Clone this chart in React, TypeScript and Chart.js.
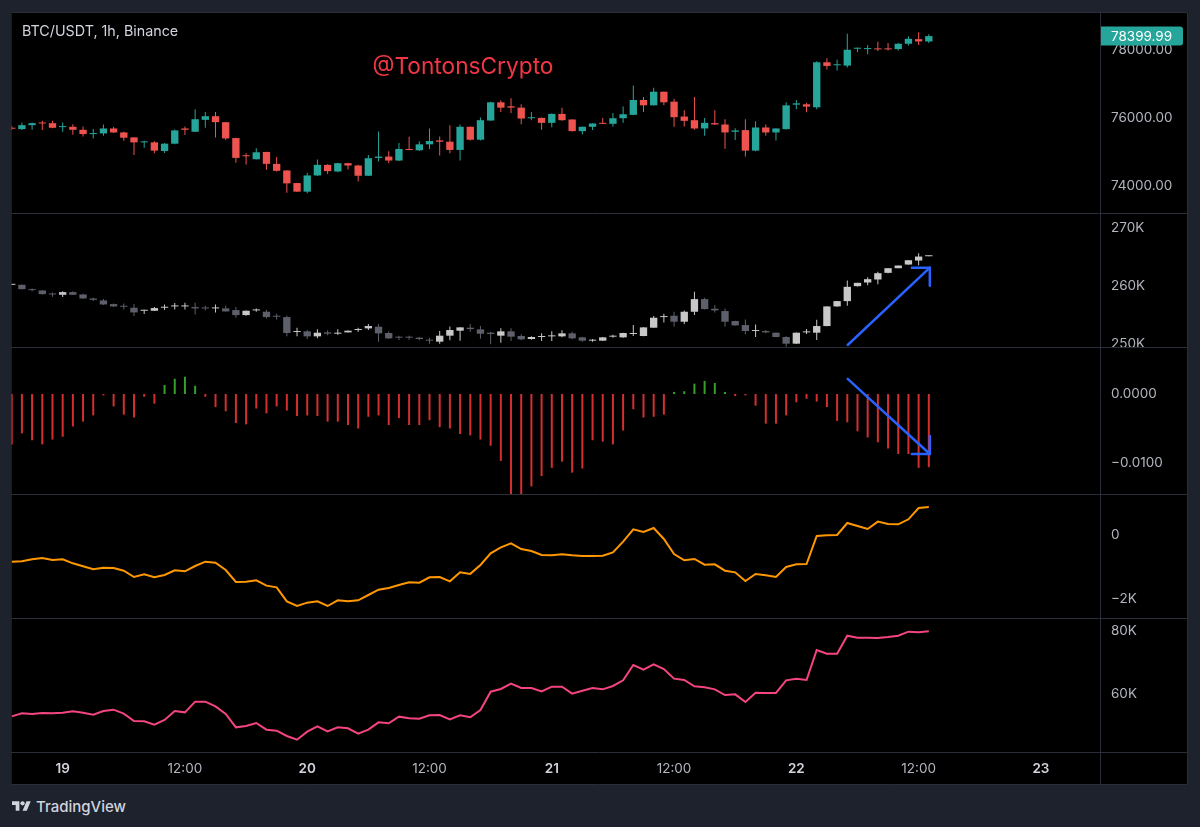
import React, { useEffect, useRef } from 'react';
import { Chart, registerables } from 'chart.js';

Chart.register(...registerables);

// x values: hours relative to the 19th, 00:00 (1h candles from 18th 19:00 to 22nd 13:00)
const HOURS = Array.from({ length: 91 }, (_, i) => i - 5);

const PRICE_OPEN = [75700, 75668, 75784, 75862, 75843, 75726, 75736, 75648, 75522, 75541,
  75687, 75570, 75425, 75279, 75279, 75026, 75240, 75687, 75590, 75940,
  76047, 75872, 75405, 74900, 74783, 74997, 74647, 74453, 74084, 73831,
  74307, 74618, 74424, 74667, 74599, 74298, 74822, 74861, 74745, 75085,
  75046, 75221, 75337, 75298, 75056, 75736, 75357, 75920, 76455, 76338,
  76299, 75988, 75998, 75852, 76115, 75950, 75609, 75736, 75852, 75823,
  75988, 76086, 76523, 76367, 76766, 76474, 76037, 75930, 75687, 75843,
  75804, 75590, 75639, 75036, 75716, 75570, 75668, 76387, 76397, 76309,
  77631, 77543, 77533, 78029, 78019, 78039, 78039, 78019, 78175, 78311, 78243];
const PRICE_HIGH = [75760, 75862, 75862, 75911, 75911, 75862, 75814, 75745, 75668, 75804,
  75736, 75590, 75425, 75327, 75308, 75259, 75658, 75745, 76251, 76173,
  76173, 75880, 75415, 74958, 75104, 75005, 74851, 74460, 74093, 74385,
  74774, 74637, 74677, 74677, 74618, 74910, 75600, 75017, 75259, 75444,
  75308, 75687, 75454, 75784, 75804, 75745, 76008, 76474, 76513, 76571,
  76397, 76173, 76010, 76124, 76299, 75960, 75745, 75843, 75998, 76144,
  76329, 76950, 76610, 76882, 76775, 76562, 76221, 76610, 75998, 76221,
  75959, 75697, 75959, 75901, 75804, 75697, 76455, 76523, 76445, 77660,
  77747, 77708, 78466, 78068, 78136, 78233, 78194, 78194, 78398, 78515, 78456];
const PRICE_LOW = [75640, 75639, 75648, 75639, 75697, 75590, 75502, 75454, 75395, 75473,
  75551, 75327, 74910, 75123, 74958, 74968, 75221, 75493, 75580, 75707,
  75425, 75347, 74677, 74628, 74774, 74472, 74424, 73802, 73821, 73783,
  74288, 74346, 74404, 74482, 74132, 74288, 74716, 74667, 74735, 75050,
  75026, 75085, 74890, 74958, 74745, 75337, 75337, 75911, 76173, 76144,
  75814, 75930, 75648, 75726, 75911, 75600, 75512, 75639, 75815, 75736,
  75852, 76076, 76173, 76360, 76367, 75736, 75745, 75648, 75473, 75794,
  75094, 75347, 74861, 75017, 75473, 75337, 75658, 76251, 76163, 76251,
  77417, 77388, 77475, 77932, 77864, 77961, 77980, 77980, 78126, 78136, 78194];
const PRICE_CLOSE = [75680, 75784, 75843, 75833, 75707, 75755, 75648, 75522, 75551, 75687,
  75570, 75415, 75279, 75298, 75036, 75240, 75629, 75648, 75959, 76047,
  75872, 75395, 74822, 74871, 74988, 74647, 74443, 74074, 73831, 74307,
  74618, 74433, 74667, 74599, 74298, 74813, 74861, 74745, 75085, 75056,
  75221, 75318, 75298, 75056, 75736, 75357, 75930, 76455, 76299, 76299,
  75979, 76018, 75852, 76115, 75930, 75609, 75736, 75833, 75823, 75988,
  76105, 76523, 76367, 76766, 76455, 76018, 75911, 75687, 75852, 75804,
  75570, 75629, 75036, 75716, 75570, 75687, 76367, 76425, 76329, 77631,
  77524, 77572, 77999, 78049, 78039, 78010, 78010, 78175, 78320, 78243, 78399.99];

const OI_OPEN = [260230, 260230, 259425, 259253, 258678, 258506, 258966, 258563, 257874, 257529,
  256896, 256609, 256265, 255747, 255747, 256265, 256494, 256494, 256380, 256265,
  256150, 256150, 255862, 255000, 255805, 255575, 254885, 254655, 252069, 252184,
  251322, 252012, 251782, 252012, 252414, 252701, 252989, 251897, 251265, 251207,
  251093, 250747, 250402, 251437, 252299, 252816, 252529, 251954, 251437, 252184,
  251380, 250862, 251207, 251322, 251322, 251839, 251150, 250575, 250575, 251265,
  251150, 251724, 251380, 252816, 254655, 254885, 253851, 255575, 257759, 256093,
  255690, 253966, 253276, 252241, 252241, 251954, 251207, 250057, 252012, 251954,
  253104, 256494, 257414, 259999, 260632, 261149, 262299, 263104, 263735, 264425, 265172];
const OI_HIGH = [260340, 260290, 259598, 259310, 258908, 259138, 259138, 258678, 257990, 257759,
  257011, 257011, 256896, 255920, 256380, 256839, 257080, 257126, 257126, 256609,
  256839, 256609, 256380, 255805, 256150, 255920, 255230, 254885, 252816, 252414,
  252529, 252356, 252529, 252330, 252816, 253449, 253449, 252184, 251437, 251437,
  251207, 251092, 252241, 253046, 252874, 253449, 253104, 252127, 252701, 252701,
  251667, 251322, 251839, 252184, 252356, 252127, 251265, 250862, 251200, 251610,
  251954, 253276, 252900, 254827, 255230, 255575, 255805, 259023, 257990, 256724,
  256150, 254000, 254252, 253391, 252414, 251980, 251322, 251970, 252586, 254195,
  256530, 257414, 260977, 260575, 261552, 262471, 263104, 263564, 264482, 265689, 265300];
const OI_LOW = [260230, 259420, 259138, 258563, 258161, 258104, 258500, 257816, 257414, 256724,
  256380, 255977, 254827, 255172, 255690, 255862, 255977, 255977, 255115, 255805,
  255460, 255575, 254540, 254885, 255575, 254425, 254252, 251322, 251322, 250862,
  250977, 251495, 251610, 251990, 252127, 252414, 250402, 250862, 250690, 250747,
  250632, 250057, 250057, 250632, 250575, 252127, 250919, 249943, 250230, 250517,
  250632, 250747, 250517, 250517, 251150, 250805, 250402, 250402, 250560, 251093,
  251100, 251380, 251350, 252800, 253736, 252989, 253449, 255000, 255977, 255460,
  252989, 253200, 251667, 251207, 251839, 251180, 249540, 250000, 251724, 250690,
  253080, 256450, 256609, 259950, 260172, 260345, 262250, 263080, 263700, 263620, 265150];
const OI_CLOSE = [260340, 259483, 259310, 258620, 258563, 258966, 258506, 257874, 257644, 256839,
  256494, 256437, 255460, 255862, 256207, 256380, 256609, 256552, 256150, 256150,
  256265, 255632, 255000, 255747, 255920, 254655, 254712, 251897, 252241, 251322,
  251954, 251782, 251954, 252299, 252586, 253104, 251839, 250977, 251093, 251093,
  250862, 250575, 251437, 252414, 252874, 252586, 251782, 251724, 252184, 251265,
  250805, 251207, 251380, 251495, 251839, 250977, 250575, 250690, 251150, 251437,
  251897, 251839, 252874, 254540, 254827, 253851, 255575, 257759, 256035, 255805,
  253851, 253219, 252241, 252414, 252012, 251207, 250057, 251954, 252127, 253104,
  256494, 257414, 259885, 260575, 261207, 262241, 263104, 263564, 264482, 265115, 265287];

const FUNDING = [-0.0073, -0.0057, -0.0067, -0.0073, -0.0066, -0.0062, -0.0047, -0.0040, -0.0031, -0.0002,
  -0.0018, -0.0030, -0.0034, -0.0004, -0.0014, 0.0013, 0.0022, 0.0025, 0.0012, -0.0004,
  -0.0019, -0.0025, -0.0042, -0.0044, -0.0021, -0.0028, -0.0018, -0.0024, -0.0032, -0.0031,
  -0.0032, -0.0040, -0.0040, -0.0045, -0.0050, -0.0033, -0.0031, -0.0045, -0.0035, -0.0045,
  -0.0045, -0.0038, -0.0048, -0.0050, -0.0058, -0.0060, -0.0066, -0.0075, -0.0097, -0.0145,
  -0.0145, -0.0134, -0.0119, -0.0107, -0.0098, -0.0114, -0.0108, -0.0067, -0.0069, -0.0073,
  -0.0053, -0.0022, -0.0034, -0.0033, -0.0030, 0.0003, 0.0004, 0.0015, 0.0019, 0.0016,
  0.0003, -0.0003, -0.0002, -0.0017, -0.0043, -0.0043, -0.0031, -0.0012, -0.0007, -0.0011,
  -0.0019, -0.0039, -0.0041, -0.0054, -0.0063, -0.0070, -0.0079, -0.0087, -0.0087, -0.0107, -0.0106];

const LINE_ORANGE = [-833, -823, -760, -719, -781, -760, -885, -979, -1073, -1021,
  -1031, -1115, -1313, -1229, -1323, -1250, -1104, -1135, -969, -833,
  -865, -1094, -1469, -1458, -1417, -1583, -1635, -2073, -2219, -2115,
  -2073, -2219, -2042, -2073, -2042, -1875, -1708, -1656, -1563, -1479,
  -1490, -1323, -1313, -1448, -1167, -1215, -938, -573, -385, -260,
  -438, -500, -625, -635, -604, -635, -656, -656, -646, -542,
  -208, 177, 94, 219, -125, -594, -792, -750, -927, -917,
  -1115, -1167, -1438, -1219, -1260, -1313, -1000, -917, -906, -31,
  -10, 0, 375, 281, 188, 417, 344, 333, 490, 844, 875];

const LINE_PINK = [52909, 53862, 53650, 53968, 53862, 54073, 54497, 54073, 53438, 54603,
  55026, 53756, 51428, 51322, 50263, 51745, 54603, 54179, 57566, 57566,
  56085, 53650, 49417, 49840, 50793, 48676, 48359, 46665, 45501, 48041,
  49734, 48147, 49417, 49099, 47406, 48676, 51004, 50687, 52804, 52274,
  52168, 53226, 53332, 51957, 53226, 52600, 54920, 60740, 61587, 63280,
  61904, 61904, 60846, 62328, 62328, 60105, 61058, 61904, 61481, 62540,
  64339, 69207, 67725, 69418, 67937, 64868, 64445, 62434, 62117, 61481,
  59682, 59894, 57460, 60423, 60317, 60317, 64339, 64868, 64445, 73970,
  72806, 72806, 78520, 77885, 77885, 77779, 78096, 78520, 79790, 79578, 79896];

const X_TICKS = [0, 12, 24, 36, 48, 60, 72, 84, 96];
const X_TICK_LABELS = ['19', '12:00', '20', '12:00', '21', '12:00', '22', '12:00', '23'];
const PRICE_TICKS = [74000, 76000, 78000];
const PRICE_TICK_LABELS = ['74000.00', '76000.00', '78000.00'];
const OI_TICKS = [250000, 260000, 270000];
const OI_TICK_LABELS = ['250K', '260K', '270K'];
const FUNDING_TICKS = [-0.01, 0];
const FUNDING_TICK_LABELS = ['\u22120.0100', '0.0000'];
const ORANGE_TICKS = [-2000, 0];
const ORANGE_TICK_LABELS = ['\u22122K', '0'];
const PINK_TICKS = [60000, 80000];
const PINK_TICK_LABELS = ['60K', '80K'];

// hand-drawn arrows (data coordinates: [hour, value])
const OI_ARROW = { axis: 'yO', from: [77.04, 249830], to: [85.1, 263200], head: 1 };
const FUNDING_ARROW = { axis: 'yF', from: [77.04, 0.0022], to: [85.1, -0.0087], head: -1 };

const TITLE = 'BTC/USDT, 1h, Binance';
const WATERMARK = '@TontonsCrypto';

const UP = '#26a69a';
const DOWN = '#ef5350';
const OI_UP = '#c8c8c8';
const OI_DOWN = '#5d606b';
const HIST_UP = '#33a02c';
const HIST_DOWN = '#d32f2f';
const SEP = '#2a2e39';
const AXIS_COLOR = '#b2b5be';
const FONT = 'Inter, "Noto Sans", sans-serif';

const X_MIN = -5.07;
const X_MAX = 101.8;

function yScale(min: number, max: number, weight: number, ticks: number[], labels: string[]) {
  return {
    type: 'linear',
    position: 'right',
    stack: 'panes',
    stackWeight: weight,
    min,
    max,
    bounds: 'data',
    beginAtZero: false,
    grid: { display: false, drawTicks: false },
    border: { display: false },
    afterBuildTicks: (s: any) => { s.ticks = ticks.map((v) => ({ value: v })); },
    afterFit: (s: any) => {
      s.width = 88;
      s.paddingTop = 0; s.paddingBottom = 0; s.paddingLeft = 0; s.paddingRight = 0;
    },
    ticks: {
      autoSkip: false,
      padding: 11,
      color: AXIS_COLOR,
      font: { family: FONT, size: 13.5 },
      callback: (_v: any, i: number) => labels[i],
    },
  };
}

const upDown = (o: number[], c: number[], up: string, down: string) =>
  HOURS.map((_, i) => (c[i] >= o[i] ? up : down));

const decorPlugin = {
  id: 'decor',
  afterDraw(chart: any) {
    const { ctx, chartArea, scales } = chart;
    const W = chart.width;
    const H = chart.height;
    const xs = scales.x;
    ctx.save();

    // arrows
    [OI_ARROW, FUNDING_ARROW].forEach((a) => {
      const ys = scales[a.axis];
      const x1 = xs.getPixelForValue(a.from[0]);
      const y1 = ys.getPixelForValue(a.from[1]);
      const x2 = xs.getPixelForValue(a.to[0]);
      const y2 = ys.getPixelForValue(a.to[1]);
      ctx.strokeStyle = '#2962ff';
      ctx.lineWidth = 2.5;
      ctx.lineCap = 'round';
      ctx.lineJoin = 'round';
      ctx.beginPath();
      ctx.moveTo(x1, y1);
      ctx.lineTo(x2, y2);
      ctx.stroke();
      ctx.beginPath();
      ctx.moveTo(x2 - 18, y2);
      ctx.lineTo(x2, y2);
      ctx.lineTo(x2, y2 + a.head * 18);
      ctx.stroke();
    });

    // clip axis labels that spill below the OI pane
    ctx.fillStyle = '#000';
    ctx.fillRect(chartArea.right + 1, scales.yO.bottom, W - chartArea.right - 1, 8);

    // pane separators
    ctx.strokeStyle = SEP;
    ctx.lineWidth = 1;
    ['yP', 'yO', 'yF', 'yC', 'yV'].forEach((id) => {
      const y = Math.round(scales[id].bottom) + 0.5;
      ctx.beginPath();
      ctx.moveTo(0, y);
      ctx.lineTo(W, y);
      ctx.stroke();
    });
    const xr = Math.round(chartArea.right) + 0.5;
    ctx.beginPath();
    ctx.moveTo(xr, 0);
    ctx.lineTo(xr, H);
    ctx.stroke();
    ctx.strokeRect(0.5, 0.5, W - 1, H - 1);

    // last price label
    const last = PRICE_CLOSE[PRICE_CLOSE.length - 1];
    const yl = scales.yP.getPixelForValue(last);
    ctx.fillStyle = UP;
    ctx.beginPath();
    ctx.roundRect(chartArea.right + 1, yl - 9.5, 82, 19, [0, 3, 3, 0]);
    ctx.fill();
    ctx.fillStyle = '#ffffff';
    ctx.font = `13.5px ${FONT}`;
    ctx.textBaseline = 'middle';
    ctx.textAlign = 'left';
    ctx.fillText(last.toFixed(2), chartArea.right + 11, yl + 0.5);

    // title
    ctx.fillStyle = '#d1d4dc';
    ctx.font = `14.3px ${FONT}`;
    ctx.fillText(TITLE, 11, 19.5);

    // watermark
    ctx.fillStyle = '#f23645';
    ctx.font = `22.7px ${FONT}`;
    ctx.textAlign = 'center';
    ctx.fillText(WATERMARK, 452, 55);

    ctx.restore();
  },
};

export default function App() {
  const ref = useRef<HTMLCanvasElement>(null);

  useEffect(() => {
    const isDay = (i: number) => X_TICK_LABELS[i] !== undefined && X_TICK_LABELS[i].indexOf(':') < 0;
    const chart = new Chart(ref.current as HTMLCanvasElement, {
      type: 'bar',
      data: {
        datasets: [
          {
            label: 'price body',
            yAxisID: 'yP',
            data: HOURS.map((h, i) => ({ x: h, y: [PRICE_OPEN[i], PRICE_CLOSE[i]] })),
            backgroundColor: upDown(PRICE_OPEN, PRICE_CLOSE, UP, DOWN),
            grouped: false,
            maxBarThickness: 8,
            minBarLength: 1,
            borderWidth: 0,
          },
          {
            label: 'price wick',
            yAxisID: 'yP',
            data: HOURS.map((h, i) => ({ x: h, y: [PRICE_LOW[i], PRICE_HIGH[i]] })),
            backgroundColor: upDown(PRICE_OPEN, PRICE_CLOSE, UP, DOWN),
            grouped: false,
            maxBarThickness: 1,
            inflateAmount: 0,
            borderWidth: 0,
          },
          {
            label: 'oi body',
            yAxisID: 'yO',
            data: HOURS.map((h, i) => ({ x: h, y: [OI_OPEN[i], OI_CLOSE[i]] })),
            backgroundColor: upDown(OI_OPEN, OI_CLOSE, OI_UP, OI_DOWN),
            grouped: false,
            maxBarThickness: 8,
            minBarLength: 1,
            borderWidth: 0,
          },
          {
            label: 'oi wick',
            yAxisID: 'yO',
            data: HOURS.map((h, i) => ({ x: h, y: [OI_LOW[i], OI_HIGH[i]] })),
            backgroundColor: upDown(OI_OPEN, OI_CLOSE, OI_UP, OI_DOWN),
            grouped: false,
            maxBarThickness: 1,
            inflateAmount: 0,
            borderWidth: 0,
          },
          {
            label: 'funding',
            yAxisID: 'yF',
            data: HOURS.map((h, i) => ({ x: h, y: [0, FUNDING[i]] })),
            backgroundColor: FUNDING.map((v) => (v >= 0 ? HIST_UP : HIST_DOWN)),
            grouped: false,
            maxBarThickness: 2,
            borderWidth: 0,
          },
          {
            type: 'line',
            label: 'orange',
            yAxisID: 'yC',
            data: HOURS.map((h, i) => ({ x: h, y: LINE_ORANGE[i] })),
            borderColor: '#ff9800',
            borderWidth: 2,
            pointRadius: 0,
            tension: 0,
            fill: false,
          },
          {
            type: 'line',
            label: 'pink',
            yAxisID: 'yV',
            data: HOURS.map((h, i) => ({ x: h, y: LINE_PINK[i] })),
            borderColor: '#f5457f',
            borderWidth: 2,
            pointRadius: 0,
            tension: 0,
            fill: false,
          },
        ],
      } as any,
      options: {
        animation: false,
        responsive: false,
        events: [],
        layout: { padding: 0, autoPadding: false },
        plugins: { legend: { display: false }, tooltip: { enabled: false } },
        scales: {
          x: {
            type: 'linear',
            min: X_MIN,
            max: X_MAX,
            offset: false,
            bounds: 'data',
            grid: { display: false, drawTicks: false, offset: false },
            border: { display: false },
            afterBuildTicks: (s: any) => { s.ticks = X_TICKS.map((v) => ({ value: v })); },
            afterFit: (s: any) => {
              s.height = 33;
              s.paddingTop = 0; s.paddingBottom = 0; s.paddingLeft = 0; s.paddingRight = 0;
            },
            ticks: {
              autoSkip: false,
              maxRotation: 0,
              padding: 9,
              callback: (_v: any, i: number) => X_TICK_LABELS[i],
              color: (c: any) => (isDay(c.index) ? '#d1d4dc' : AXIS_COLOR),
              font: (c: any) => ({ family: FONT, size: 13.5, weight: isDay(c.index) ? '600' : '400' }),
            },
          },
          yP: yScale(73204, 79108, 201, PRICE_TICKS, PRICE_TICK_LABELS),
          yO: yScale(249481, 272645, 134, OI_TICKS, OI_TICK_LABELS),
          yF: yScale(-0.01449, 0.00681, 147, FUNDING_TICKS, FUNDING_TICK_LABELS),
          yC: yScale(-2594, 1281, 124, ORANGE_TICKS, ORANGE_TICK_LABELS),
          yV: yScale(41587, 84127, 134, PINK_TICKS, PINK_TICK_LABELS),
        },
      } as any,
      plugins: [decorPlugin],
    } as any);
    return () => chart.destroy();
  }, []);

  return (
    <div style={{ position: 'fixed', left: 0, top: 0, width: 1200, height: 827, background: '#1e222d', overflow: 'hidden' }}>
      <canvas
        ref={ref}
        width={1177}
        height={773}
        style={{ position: 'absolute', left: 11, top: 12, background: '#000' }}
      />
      <div
        style={{
          position: 'absolute', left: 12, top: 797, height: 18, display: 'flex', alignItems: 'center',
          gap: 5, color: '#d1d4dc', fontFamily: FONT, fontSize: 15, fontWeight: 500,
        }}
      >
        <svg width="19" height="15" viewBox="0 0 36 28" fill="#d1d4dc">
          <path d="M14 22H7V11H0V4h14v18zM28 22h-8l7.5-18h8L28 22z" />
          <circle cx="20" cy="8" r="4" />
        </svg>
        <span>TradingView</span>
      </div>
    </div>
  );
}
